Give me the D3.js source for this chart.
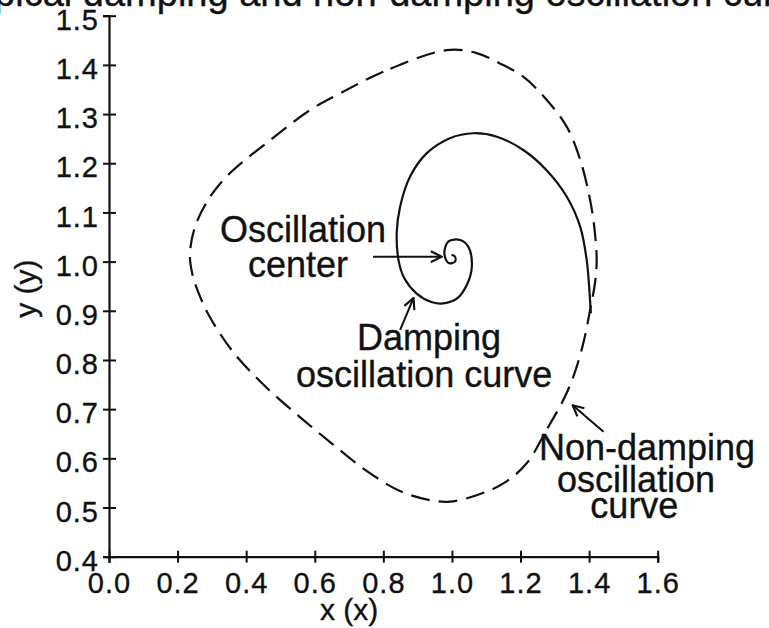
<!DOCTYPE html>
<html>
  <head>
    <meta charset="utf-8" />
    <script src="https://d3js.org/d3.v7.min.js"></script>
    <style>
      body { margin: 0; background: #fff; }
      svg text { font-family: "Liberation Sans", Arial, Helvetica, sans-serif; fill: #111; stroke: #111; stroke-width: 0.35px; }
    </style>
  </head>
  <body>
    <svg id="chart" width="769" height="628"></svg>
    <script>
      // tick values
      var xTicks = [0.0, 0.2, 0.4, 0.6, 0.8, 1.0, 1.2, 1.4, 1.6];
      var yTicks = [0.4, 0.5, 0.6, 0.7, 0.8, 0.9, 1.0, 1.1, 1.2, 1.3, 1.4, 1.5];

      // non-damping oscillation (closed loop)
      var nonDamping = [
        [0.985, 1.430], [0.80, 1.386], [0.674, 1.342], [0.586, 1.308], [0.47, 1.247],
        [0.353, 1.180], [0.295, 1.132], [0.251, 1.071], [0.236, 1.015], [0.243, 0.975],
        [0.262, 0.935], [0.292, 0.890], [0.36, 0.818], [0.45, 0.750], [0.55, 0.688],
        [0.65, 0.630], [0.75, 0.575], [0.85, 0.533], [0.936, 0.515], [0.994, 0.512],
        [1.072, 0.525], [1.15, 0.549], [1.218, 0.590], [1.276, 0.658], [1.325, 0.719],
        [1.354, 0.766], [1.383, 0.834], [1.403, 0.902], [1.417, 0.956], [1.422, 1.0],
        [1.417, 1.058], [1.403, 1.125], [1.374, 1.207], [1.335, 1.274], [1.276, 1.329],
        [1.208, 1.376], [1.14, 1.403], [1.072, 1.424]
      ];

      // damping oscillation (spiral into the centre)
      var damping = [
        [1.405, 0.895], [1.400, 0.950], [1.393, 1.003], [1.374, 1.071], [1.335, 1.132],
        [1.276, 1.186], [1.208, 1.227], [1.131, 1.254], [1.063, 1.261], [0.994, 1.251],
        [0.926, 1.220], [0.878, 1.173], [0.849, 1.112], [0.839, 1.058], [0.845, 1.0],
        [0.862, 0.965], [0.897, 0.935], [0.94, 0.918], [0.975, 0.915], [1.015, 0.925],
        [1.045, 0.955], [1.058, 0.99], [1.048, 1.030], [1.024, 1.044], [0.99, 1.041],
        [0.978, 1.017], [0.99, 0.997], [1.009, 1.0], [1.009, 1.010], [0.999, 1.014]
      ];

      // annotation labels: [text, x, y] in data units
      var labels = [
        ["Oscillation", 0.566, 1.040],
        ["center", 0.551, 0.969],
        ["Damping", 0.933, 0.820],
        ["oscillation curve", 0.919, 0.746],
        ["Non-damping", 1.569, 0.597],
        ["oscillation", 1.537, 0.532],
        ["curve", 1.532, 0.478]
      ];

      // annotation arrows: [x1, y1, x2, y2], head at (x2, y2)
      var arrows = [
        [0.77, 1.010, 0.97, 1.010],
        [0.849, 0.861, 0.888, 0.926],
        [1.442, 0.654, 1.352, 0.708]
      ];

      var svg = d3.select("#chart");
      var x = d3.scaleLinear().domain([0, 1.6]).range([109, 657.7]);
      var y = d3.scaleLinear().domain([0.4, 1.5]).range([556.7, 15.7]);

      // title (top of it runs off the page, as in the original)
      svg.append("text")
        .attr("x", -46)
        .attr("y", 6)
        .style("font-size", "38px")
        .text("Typical damping and non-damping oscillation curves");

      // y axis
      var gy = svg.append("g")
        .attr("transform", "translate(" + x(0) + ",0)")
        .call(d3.axisLeft(y).tickValues(yTicks).tickFormat(d3.format(".1f")).tickSize(6).tickPadding(4));
      gy.select(".domain").attr("stroke", "#111").attr("stroke-width", 2.2);
      gy.selectAll(".tick line").attr("x1", -6).attr("x2", 7).attr("stroke", "#111").attr("stroke-width", 2);
      gy.selectAll(".tick text")
        .attr("x", -10)
        .attr("dy", "0.47em")
        .style("font-size", "29px")
        .style("letter-spacing", "1px")
        .style("font-family", "'Liberation Sans', Arial, sans-serif")
        .attr("fill", "#111");

      // x axis
      var gx = svg.append("g")
        .attr("transform", "translate(0," + y(0.4) + ")")
        .call(d3.axisBottom(x).tickValues(xTicks).tickFormat(d3.format(".1f")).tickSize(6));
      gx.select(".domain").attr("stroke", "#111").attr("stroke-width", 2.2);
      gx.selectAll(".tick line").attr("y1", -6).attr("y2", 6).attr("stroke", "#111").attr("stroke-width", 2);
      gx.selectAll(".tick text")
        .attr("y", 36)
        .attr("dy", 0)
        .style("font-size", "29px")
        .style("letter-spacing", "1px")
        .style("font-family", "'Liberation Sans', Arial, sans-serif")
        .attr("fill", "#111");

      // axis titles
      svg.append("text")
        .attr("x", x(0.7))
        .attr("y", 620)
        .attr("text-anchor", "middle")
        .style("font-size", "30px")
        .text("x  (x)");

      svg.append("text")
        .attr("transform", "translate(36," + y(0.945) + ") rotate(-90)")
        .attr("text-anchor", "middle")
        .style("font-size", "30px")
        .text("y  (y)");

      var line = d3.line()
        .x(function (d) { return x(d[0]); })
        .y(function (d) { return y(d[1]); });

      svg.append("path")
        .datum(nonDamping)
        .attr("d", line.curve(d3.curveCatmullRomClosed.alpha(0.5)))
        .attr("fill", "none")
        .attr("stroke", "#111")
        .attr("stroke-width", 2.2)
        .attr("stroke-dasharray", "19,9");

      svg.append("path")
        .datum(damping)
        .attr("d", line.curve(d3.curveCatmullRom.alpha(0.5)))
        .attr("fill", "none")
        .attr("stroke", "#111")
        .attr("stroke-width", 2.2);

      // arrowhead
      svg.append("defs").append("marker")
        .attr("id", "head")
        .attr("viewBox", "0 0 12 12")
        .attr("refX", 11)
        .attr("refY", 6)
        .attr("markerWidth", 13)
        .attr("markerHeight", 13)
        .attr("markerUnits", "userSpaceOnUse")
        .attr("orient", "auto")
        .append("path")
        .attr("d", "M1,1 L11,6 L1,11")
        .attr("fill", "none")
        .attr("stroke", "#111")
        .attr("stroke-width", 2);

      svg.selectAll(".arrow")
        .data(arrows)
        .enter()
        .append("line")
        .attr("class", "arrow")
        .attr("x1", function (d) { return x(d[0]); })
        .attr("y1", function (d) { return y(d[1]); })
        .attr("x2", function (d) { return x(d[2]); })
        .attr("y2", function (d) { return y(d[3]); })
        .attr("stroke", "#111")
        .attr("stroke-width", 2)
        .attr("marker-end", "url(#head)");

      svg.selectAll(".label")
        .data(labels)
        .enter()
        .append("text")
        .attr("class", "label")
        .attr("x", function (d) { return x(d[1]); })
        .attr("y", function (d) { return y(d[2]); })
        .attr("text-anchor", "middle")
        .style("font-size", "36px")
        .text(function (d) { return d[0]; });
    </script>
  </body>
</html>
